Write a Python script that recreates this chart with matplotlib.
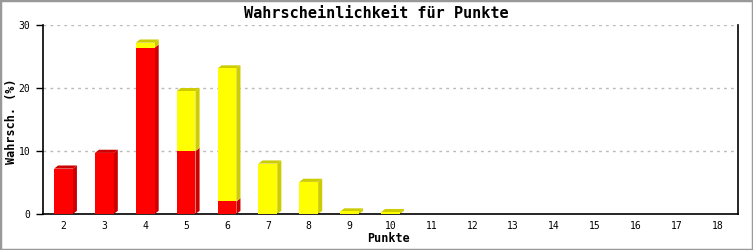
import matplotlib.pyplot as plt
from matplotlib.patches import Polygon, Rectangle

# Data
punkte = list(range(2, 19))
rot = [7.2, 9.7, 26.4, 10.0, 2.0, 0, 0, 0, 0, 0, 0, 0, 0, 0, 0, 0, 0]
gelb = [0, 0, 0.8, 9.5, 21.1, 8.0, 5.1, 0.4, 0.3, 0, 0, 0, 0, 0, 0, 0, 0]

RED, RED_D = "#ff0000", "#cc0000"
YEL, YEL_D = "#ffff00", "#cccc00"

fig = plt.figure(figsize=(7.53, 2.5), dpi=100)
ax = fig.add_axes([43 / 753, 36 / 250, 695 / 753, 189 / 250])

width = 0.46
dx, dy = 0.1, 0.5  # 3D depth offset in data units


def draw_segment(x, y0, y1, face, dark, top):
    if y1 <= y0:
        return
    ax.bar(x, y1 - y0, width, bottom=y0, color=face, linewidth=0, zorder=3)
    r = x + width / 2
    ax.add_patch(Polygon([(r, y0), (r + dx, y0 + dy), (r + dx, y1 + dy), (r, y1)],
                         closed=True, color=dark, linewidth=0, zorder=2))
    if top:
        l = x - width / 2
        ax.add_patch(Polygon([(l, y1), (l + dx, y1 + dy), (r + dx, y1 + dy), (r, y1)],
                             closed=True, color=dark, linewidth=0, zorder=2))


for x, r, g in zip(punkte, rot, gelb):
    draw_segment(x, 0, r, RED, RED_D, g == 0)
    draw_segment(x, r, r + g, YEL, YEL_D, True)

ax.set_xlim(1.5, 18.5)
ax.set_ylim(0, 30)
ax.set_xticks(punkte)
ax.set_xticklabels([str(p) for p in punkte], family="DejaVu Sans Mono", fontsize=7)
ax.set_yticks([0, 10, 20, 30])
ax.set_yticklabels(["0", "10", "20", "30"], family="DejaVu Sans Mono", fontsize=7)
ax.tick_params(axis="x", length=0, pad=5)
ax.tick_params(axis="y", length=5, width=1, pad=4)

for v in [10, 20, 30]:
    ax.axhline(v, color="#bbbbbb", linewidth=1, linestyle=(0, (2, 3)), zorder=1)

ax.spines["top"].set_visible(False)
for s in ["left", "right", "bottom"]:
    ax.spines[s].set_linewidth(1.2)
    ax.spines[s].set_color("black")

fig.text(389 / 753, 1 - 238 / 250, "Punkte", ha="center", va="center",
         family="DejaVu Sans Mono", fontsize=8.5, fontweight="bold")
fig.text(12 / 753, 1 - 121 / 250, "Wahrsch. (%)", ha="center", va="center", rotation=90,
         family="DejaVu Sans Mono", fontsize=8.5, fontweight="bold")
fig.text(0.5, 1 - 13 / 250, "Wahrscheinlichkeit für Punkte", ha="center", va="center",
         family="DejaVu Sans Mono", fontsize=11, fontweight="bold")

fig.patches.append(Rectangle((0, 0), 1, 1, transform=fig.transFigure, fill=False,
                             edgecolor="#999999", linewidth=2.5))

fig.savefig("out.png", dpi=100)
